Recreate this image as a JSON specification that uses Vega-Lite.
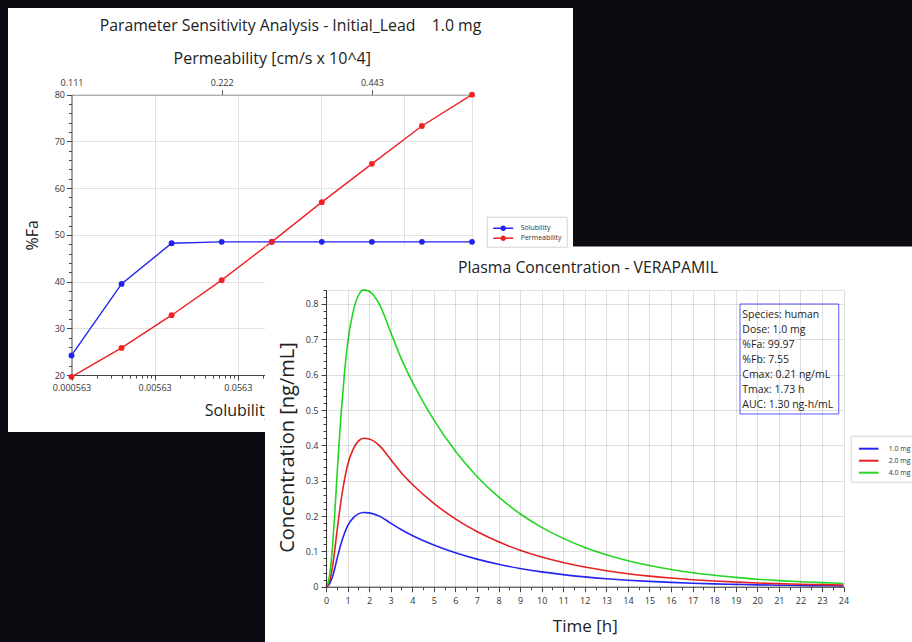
{
  "$schema": "https://vega.github.io/schema/vega-lite/v6.json",
  "width": 565,
  "height": 424,
  "autosize": "none",
  "padding": {"left": 8, "top": 8, "right": 339, "bottom": 210},
  "background": "#0b0c12",
  "view": {"fill": "white", "stroke": null},
  "config": {
    "font": "Open Sans",
    "view": {"stroke": null},
    "axis": {"labelFont": "Open Sans", "titleFont": "Open Sans", "titleFontWeight": "normal", "titleColor": "#222", "labelColor": "#333", "domainColor": "#444", "tickColor": "#444", "labelFlush": false, "labelOverlap": false},
    "legend": {"labelFont": "Open Sans"}
  },
  "datasets": {
    "sens": [
      {"series": "Solubility", "param": 0.000563, "fa": 24.2},
      {"series": "Solubility", "param": 0.002252, "fa": 39.5},
      {"series": "Solubility", "param": 0.009008, "fa": 48.2},
      {"series": "Solubility", "param": 0.036032, "fa": 48.5},
      {"series": "Solubility", "param": 0.144128, "fa": 48.5},
      {"series": "Solubility", "param": 0.576512, "fa": 48.5},
      {"series": "Solubility", "param": 2.306048, "fa": 48.5},
      {"series": "Solubility", "param": 9.224192, "fa": 48.5},
      {"series": "Solubility", "param": 36.896768, "fa": 48.5},
      {"series": "Permeability", "param": 0.1108, "fa": 19.6},
      {"series": "Permeability", "param": 0.1396, "fa": 25.8},
      {"series": "Permeability", "param": 0.1759, "fa": 32.8},
      {"series": "Permeability", "param": 0.2216, "fa": 40.3},
      {"series": "Permeability", "param": 0.2792, "fa": 48.5},
      {"series": "Permeability", "param": 0.3518, "fa": 57.0},
      {"series": "Permeability", "param": 0.4432, "fa": 65.2},
      {"series": "Permeability", "param": 0.5584, "fa": 73.3},
      {"series": "Permeability", "param": 0.7036, "fa": 80.0}
    ],
    "pk": [
      {"t": 0, "dose": "1.0 mg", "c": 0}, {"t": 0.1, "dose": "1.0 mg", "c": 0.003}, {"t": 0.2, "dose": "1.0 mg", "c": 0.012}, {"t": 0.3, "dose": "1.0 mg", "c": 0.028}, {"t": 0.4, "dose": "1.0 mg", "c": 0.05}, {"t": 0.5, "dose": "1.0 mg", "c": 0.076}, {"t": 0.6, "dose": "1.0 mg", "c": 0.1}, {"t": 0.7, "dose": "1.0 mg", "c": 0.122}, {"t": 0.85, "dose": "1.0 mg", "c": 0.15}, {"t": 1, "dose": "1.0 mg", "c": 0.172}, {"t": 1.25, "dose": "1.0 mg", "c": 0.194}, {"t": 1.5, "dose": "1.0 mg", "c": 0.206}, {"t": 1.75, "dose": "1.0 mg", "c": 0.21}, {"t": 2, "dose": "1.0 mg", "c": 0.209}, {"t": 2.5, "dose": "1.0 mg", "c": 0.199}, {"t": 3, "dose": "1.0 mg", "c": 0.18}, {"t": 3.5, "dose": "1.0 mg", "c": 0.161}, {"t": 4, "dose": "1.0 mg", "c": 0.145}, {"t": 5, "dose": "1.0 mg", "c": 0.118}, {"t": 6, "dose": "1.0 mg", "c": 0.096}, {"t": 7, "dose": "1.0 mg", "c": 0.078}, {"t": 8, "dose": "1.0 mg", "c": 0.0635}, {"t": 9, "dose": "1.0 mg", "c": 0.0516}, {"t": 10, "dose": "1.0 mg", "c": 0.042}, {"t": 11, "dose": "1.0 mg", "c": 0.0342}, {"t": 12, "dose": "1.0 mg", "c": 0.0278}, {"t": 13, "dose": "1.0 mg", "c": 0.0226}, {"t": 14, "dose": "1.0 mg", "c": 0.0184}, {"t": 15, "dose": "1.0 mg", "c": 0.015}, {"t": 16, "dose": "1.0 mg", "c": 0.0122}, {"t": 17, "dose": "1.0 mg", "c": 0.0099}, {"t": 18, "dose": "1.0 mg", "c": 0.0081}, {"t": 19, "dose": "1.0 mg", "c": 0.0066}, {"t": 20, "dose": "1.0 mg", "c": 0.0053}, {"t": 21, "dose": "1.0 mg", "c": 0.0043}, {"t": 22, "dose": "1.0 mg", "c": 0.0035}, {"t": 23, "dose": "1.0 mg", "c": 0.0029}, {"t": 24, "dose": "1.0 mg", "c": 0.0023},
      {"t": 0, "dose": "2.0 mg", "c": 0}, {"t": 0.1, "dose": "2.0 mg", "c": 0.006}, {"t": 0.2, "dose": "2.0 mg", "c": 0.024}, {"t": 0.3, "dose": "2.0 mg", "c": 0.056}, {"t": 0.4, "dose": "2.0 mg", "c": 0.1}, {"t": 0.5, "dose": "2.0 mg", "c": 0.152}, {"t": 0.6, "dose": "2.0 mg", "c": 0.2}, {"t": 0.7, "dose": "2.0 mg", "c": 0.244}, {"t": 0.85, "dose": "2.0 mg", "c": 0.3}, {"t": 1, "dose": "2.0 mg", "c": 0.344}, {"t": 1.25, "dose": "2.0 mg", "c": 0.388}, {"t": 1.5, "dose": "2.0 mg", "c": 0.412}, {"t": 1.75, "dose": "2.0 mg", "c": 0.42}, {"t": 2, "dose": "2.0 mg", "c": 0.418}, {"t": 2.5, "dose": "2.0 mg", "c": 0.398}, {"t": 3, "dose": "2.0 mg", "c": 0.36}, {"t": 3.5, "dose": "2.0 mg", "c": 0.322}, {"t": 4, "dose": "2.0 mg", "c": 0.29}, {"t": 5, "dose": "2.0 mg", "c": 0.236}, {"t": 6, "dose": "2.0 mg", "c": 0.192}, {"t": 7, "dose": "2.0 mg", "c": 0.156}, {"t": 8, "dose": "2.0 mg", "c": 0.127}, {"t": 9, "dose": "2.0 mg", "c": 0.1032}, {"t": 10, "dose": "2.0 mg", "c": 0.084}, {"t": 11, "dose": "2.0 mg", "c": 0.0684}, {"t": 12, "dose": "2.0 mg", "c": 0.0556}, {"t": 13, "dose": "2.0 mg", "c": 0.0452}, {"t": 14, "dose": "2.0 mg", "c": 0.0368}, {"t": 15, "dose": "2.0 mg", "c": 0.03}, {"t": 16, "dose": "2.0 mg", "c": 0.0244}, {"t": 17, "dose": "2.0 mg", "c": 0.0198}, {"t": 18, "dose": "2.0 mg", "c": 0.0162}, {"t": 19, "dose": "2.0 mg", "c": 0.0132}, {"t": 20, "dose": "2.0 mg", "c": 0.0106}, {"t": 21, "dose": "2.0 mg", "c": 0.0086}, {"t": 22, "dose": "2.0 mg", "c": 0.007}, {"t": 23, "dose": "2.0 mg", "c": 0.0058}, {"t": 24, "dose": "2.0 mg", "c": 0.0046},
      {"t": 0, "dose": "4.0 mg", "c": 0}, {"t": 0.1, "dose": "4.0 mg", "c": 0.012}, {"t": 0.2, "dose": "4.0 mg", "c": 0.048}, {"t": 0.3, "dose": "4.0 mg", "c": 0.112}, {"t": 0.4, "dose": "4.0 mg", "c": 0.2}, {"t": 0.5, "dose": "4.0 mg", "c": 0.304}, {"t": 0.6, "dose": "4.0 mg", "c": 0.4}, {"t": 0.7, "dose": "4.0 mg", "c": 0.488}, {"t": 0.85, "dose": "4.0 mg", "c": 0.6}, {"t": 1, "dose": "4.0 mg", "c": 0.688}, {"t": 1.25, "dose": "4.0 mg", "c": 0.776}, {"t": 1.5, "dose": "4.0 mg", "c": 0.824}, {"t": 1.75, "dose": "4.0 mg", "c": 0.84}, {"t": 2, "dose": "4.0 mg", "c": 0.836}, {"t": 2.5, "dose": "4.0 mg", "c": 0.796}, {"t": 3, "dose": "4.0 mg", "c": 0.72}, {"t": 3.5, "dose": "4.0 mg", "c": 0.644}, {"t": 4, "dose": "4.0 mg", "c": 0.58}, {"t": 5, "dose": "4.0 mg", "c": 0.472}, {"t": 6, "dose": "4.0 mg", "c": 0.384}, {"t": 7, "dose": "4.0 mg", "c": 0.312}, {"t": 8, "dose": "4.0 mg", "c": 0.254}, {"t": 9, "dose": "4.0 mg", "c": 0.2064}, {"t": 10, "dose": "4.0 mg", "c": 0.168}, {"t": 11, "dose": "4.0 mg", "c": 0.1368}, {"t": 12, "dose": "4.0 mg", "c": 0.1112}, {"t": 13, "dose": "4.0 mg", "c": 0.0904}, {"t": 14, "dose": "4.0 mg", "c": 0.0736}, {"t": 15, "dose": "4.0 mg", "c": 0.06}, {"t": 16, "dose": "4.0 mg", "c": 0.0488}, {"t": 17, "dose": "4.0 mg", "c": 0.0396}, {"t": 18, "dose": "4.0 mg", "c": 0.0324}, {"t": 19, "dose": "4.0 mg", "c": 0.0264}, {"t": 20, "dose": "4.0 mg", "c": 0.0212}, {"t": 21, "dose": "4.0 mg", "c": 0.0172}, {"t": 22, "dose": "4.0 mg", "c": 0.014}, {"t": 23, "dose": "4.0 mg", "c": 0.0116}, {"t": 24, "dose": "4.0 mg", "c": 0.0092}
    ]
  },
  "layer": [
    {
      "data": {"name": "sens"},
      "layer": [
        {
          "transform": [{"filter": "datum.series == 'Solubility'"}],
          "layer": [
            {
              "mark": {"type": "point", "filled": true, "size": 34, "opacity": 1},
              "encoding": {
                "x": {"field": "param", "type": "quantitative",
                  "scale": {"type": "log", "domain": [0.000563, 36.9], "range": [63.5, 464], "nice": false},
                  "axis": {"orient": "bottom", "offset": -57, "zindex": 0, "labelOverlap": false, "labelFlush": false, "tickCount": 200,
                    "values": [0.000563, 0.001126, 0.001689, 0.002252, 0.002815, 0.003378, 0.003941, 0.004504, 0.005067, 0.00563, 0.01126, 0.01689, 0.02252, 0.02815, 0.03378, 0.03941, 0.04504, 0.05067, 0.0563, 0.1126, 0.1689, 0.2252, 0.2815, 0.3378, 0.3941, 0.4504, 0.5067, 0.563, 1.126, 1.689, 2.252, 2.815, 3.378, 3.941, 4.504, 5.067, 5.63, 11.26, 16.89, 22.52, 28.15, 33.78],
                    "labelExpr": "indexof([0.000563,0.00563,0.0563,0.563,5.63], datum.value) >= 0 ? format(datum.value, '.3~r') : ''",
                    "tickSize": {"condition": {"test": "indexof([0.000563,0.00563,0.0563,0.563,5.63], datum.value) >= 0", "value": 5}, "value": 3},
                    "grid": false,
                    "labelFontSize": 9, "labelPadding": 3,
                    "title": "Solubility [mg/mL]", "titleFontSize": 16, "titlePadding": 10}},
                "y": {"field": "fa", "type": "quantitative",
                  "scale": {"domain": [20, 80], "range": [367, 86.7], "nice": false, "zero": false},
                  "axis": {"orient": "left", "offset": -63.5, "zindex": 0, "labelOverlap": false, "tickCount": 200,
                    "values": [20, 22, 24, 26, 28, 30, 32, 34, 36, 38, 40, 42, 44, 46, 48, 50, 52, 54, 56, 58, 60, 62, 64, 66, 68, 70, 72, 74, 76, 78, 80],
                    "labelExpr": "datum.value % 10 == 0 ? format(datum.value, 'd') : ''",
                    "tickSize": {"condition": {"test": "datum.value % 10 == 0", "value": 5}, "value": 3},
                    "grid": true, "gridColor": "#e2e2e2",
                    "gridOpacity": {"condition": {"test": "datum.value % 10 == 0", "value": 1}, "value": 0},
                    "labelFontSize": 9, "labelPadding": 2,
                    "title": "%Fa", "titleFontSize": 16, "titlePadding": 14}},
                "color": {"field": "series", "type": "nominal", "scale": {"domain": ["Solubility", "Permeability"], "range": ["#2222ee", "#ee2222"]},
                  "legend": {"orient": "none", "legendX": 478.7, "legendY": 208.7, "title": null, "direction": "vertical",
                    "symbolType": "M-1.54,-0.11H1.54V0.11H-1.54ZM0.42,0A0.42,0.42,0,1,1,-0.42,0A0.42,0.42,0,1,1,0.42,0Z",
                    "symbolSize": 169, "symbolStrokeWidth": 0, "symbolOffset": 5, "labelOffset": 11,
                    "labelFontSize": 7, "labelColor": "#333", "padding": 5, "rowPadding": 0,
                    "strokeColor": "#d4d4d4", "fillColor": "white"}}
              }
            },
            {
              "mark": {"type": "line", "strokeWidth": 1.4},
              "encoding": {
                "x": {"field": "param", "type": "quantitative"},
                "y": {"field": "fa", "type": "quantitative"},
                "color": {"field": "series", "type": "nominal", "legend": null}
              }
            },
            {
              "data": {"values": [{}]},
              "mark": {"type": "text", "align": "center", "baseline": "middle", "fontSize": 15.8, "color": "#222", "font": "Open Sans"},
              "encoding": {
                "x": {"datum": 0.2422, "type": "quantitative"},
                "y": {"datum": 94.7, "type": "quantitative"},
                "text": {"value": "Parameter Sensitivity Analysis - Initial_Lead\u00a0\u00a0\u00a0 1.0 mg"}
              }
            }
          ]
        },
        {
          "transform": [{"filter": "datum.series == 'Permeability'"}],
          "layer": [
            {
              "mark": {"type": "line", "strokeWidth": 1.4},
              "encoding": {
                "x": {"field": "param", "type": "quantitative",
                  "scale": {"type": "log", "base": 2, "domain": [0.1108, 0.7036], "range": [63.5, 464], "nice": false},
                  "axis": {"orient": "top", "offset": -86.7, "zindex": 0, "labelOverlap": false, "labelFlush": false, "tickCount": 200,
                    "values": [0.1108, 0.16264, 0.2216, 0.23873, 0.3504, 0.4432, 0.51433, 0.7036],
                    "labelExpr": "indexof([0.1108,0.2216,0.4432], datum.value) >= 0 ? format(datum.value, '.3f') : ''",
                    "tickOpacity": {"condition": {"test": "indexof([0.2216,0.4432], datum.value) >= 0", "value": 1}, "value": 0},
                    "grid": true, "gridColor": "#e2e2e2",
                    "gridOpacity": {"condition": {"test": "indexof([0.16264,0.23873,0.3504,0.51433,0.7036], datum.value) >= 0", "value": 1}, "value": 0},
                    "tickSize": 5, "domainColor": "#999", "tickColor": "#555",
                    "labelFontSize": 9, "labelPadding": 2,
                    "title": "Permeability [cm/s x 10^4]", "titleFontSize": 16, "titlePadding": 12}},
                "y": {"field": "fa", "type": "quantitative"},
                "color": {"field": "series", "type": "nominal", "legend": null}
              }
            },
            {
              "mark": {"type": "point", "filled": true, "size": 34, "opacity": 1},
              "encoding": {
                "x": {"field": "param", "type": "quantitative"},
                "y": {"field": "fa", "type": "quantitative"},
                "color": {"field": "series", "type": "nominal", "legend": null}
              }
            }
          ]
        }
      ],
      "resolve": {"scale": {"x": "independent"}, "axis": {"x": "independent"}}
    },
    {
      "layer": [
        {
          "data": {"values": [{}]},
          "mark": {"type": "rect", "fill": "white"},
          "encoding": {
            "x": {"datum": -2.829, "type": "quantitative",
              "scale": {"domain": [0, 24], "range": [318, 835.5], "nice": false, "zero": false},
              "axis": {"orient": "top", "offset": -281.85, "zindex": 1, "tickCount": 200,
                "values": [0, 1, 2, 3, 4, 5, 6, 7, 8, 9, 10, 11, 12, 13, 14, 15, 16, 17, 18, 19, 20, 21, 22, 23, 24],
                "grid": true, "gridColor": "#000", "gridOpacity": 0.12,
                "labels": false, "ticks": false, "domain": false, "title": null}},
            "x2": {"datum": 28},
            "y": {"datum": 0.963, "type": "quantitative",
              "scale": {"domain": [0, 0.84], "range": [578.7, 281.85], "nice": false, "zero": false},
              "axis": null},
            "y2": {"datum": -0.2}
          }
        },
        {
          "data": {"name": "pk"},
          "layer": [
            {
              "mark": {"type": "line", "strokeWidth": 1.6, "interpolate": "monotone"},
              "encoding": {
                "x": {"field": "t", "type": "quantitative",
                  "scale": {"domain": [0, 24], "range": [318, 835.5], "nice": false, "zero": false},
                  "axis": {"orient": "bottom", "offset": 154.7, "zindex": 1, "labelOverlap": false, "labelFlush": false, "tickCount": 200,
                    "values": [0, 0.5, 1, 1.5, 2, 2.5, 3, 3.5, 4, 4.5, 5, 5.5, 6, 6.5, 7, 7.5, 8, 8.5, 9, 9.5, 10, 10.5, 11, 11.5, 12, 12.5, 13, 13.5, 14, 14.5, 15, 15.5, 16, 16.5, 17, 17.5, 18, 18.5, 19, 19.5, 20, 20.5, 21, 21.5, 22, 22.5, 23, 23.5, 24],
                    "labelExpr": "datum.value % 1 == 0 ? format(datum.value, 'd') : ''",
                    "tickSize": {"condition": {"test": "datum.value % 1 == 0", "value": 5}, "value": 3},
                    "grid": false,
                    "domainColor": "#333", "labelFontSize": 9, "labelPadding": 5,
                    "title": "Time [h]", "titleFontSize": 17, "titlePadding": 13}},
                "y": {"field": "c", "type": "quantitative",
                  "scale": {"domain": [0, 0.84], "range": [578.7, 281.85], "nice": false, "zero": false},
                  "axis": {"orient": "left", "offset": -318, "zindex": 1, "labelOverlap": false, "tickCount": 200,
                    "values": [0, 0.02, 0.04, 0.06, 0.08, 0.1, 0.12, 0.14, 0.16, 0.18, 0.2, 0.22, 0.24, 0.26, 0.28, 0.3, 0.32, 0.34, 0.36, 0.38, 0.4, 0.42, 0.44, 0.46, 0.48, 0.5, 0.52, 0.54, 0.56, 0.58, 0.6, 0.62, 0.64, 0.66, 0.68, 0.7, 0.72, 0.74, 0.76, 0.78, 0.8, 0.82, 0.84],
                    "labelExpr": "abs(datum.value*10 - round(datum.value*10)) < 0.0001 ? format(datum.value, '.1~f') : ''",
                    "tickSize": {"condition": {"test": "abs(datum.value*10 - round(datum.value*10)) < 0.0001", "value": 5}, "value": 3},
                    "grid": true, "gridColor": "#000",
                    "gridOpacity": {"condition": {"test": "abs(datum.value*10 - round(datum.value*10)) < 0.0001 || datum.value > 0.835", "value": 0.12}, "value": 0},
                    "domainColor": "#333", "labelFontSize": 9, "labelPadding": 3,
                    "title": "Concentration [ng/mL]", "titleFontSize": 20, "titlePadding": 8, "titleY": 439}},
                "color": {"field": "dose", "type": "nominal",
                  "scale": {"domain": ["1.0 mg", "2.0 mg", "4.0 mg"], "range": ["#2525f0", "#e52222", "#22d822"]},
                  "legend": {"orient": "none", "legendX": 842.7, "legendY": 427.7, "title": null, "direction": "vertical",
                    "symbolType": "M-1.4,0H1.4", "symbolSize": 196, "symbolStrokeWidth": 2, "symbolOffset": 5, "labelOffset": 12,
                    "labelFontSize": 7, "labelColor": "#333", "padding": 5, "rowPadding": 0,
                    "strokeColor": "#d4d4d4", "fillColor": "white"}}
              }
            },
            {
              "data": {"values": [{}]},
              "mark": {"type": "rect", "fill": "white", "stroke": "#5b5bff", "strokeWidth": 1},
              "encoding": {
                "x": {"datum": 19.2, "type": "quantitative"},
                "x2": {"datum": 23.78},
                "y": {"datum": 0.8, "type": "quantitative"},
                "y2": {"datum": 0.4887}
              }
            },
            {
              "data": {"values": [{}]},
              "mark": {"type": "text", "align": "left", "baseline": "alphabetic", "fontSize": 10.5, "lineHeight": 15, "color": "#222", "font": "Open Sans"},
              "encoding": {
                "x": {"datum": 19.306, "type": "quantitative"},
                "y": {"datum": 0.7603, "type": "quantitative"},
                "text": {"value": ["Species: human", "Dose: 1.0 mg", "%Fa: 99.97", "%Fb: 7.55", "Cmax: 0.21 ng/mL", "Tmax: 1.73 h", "AUC: 1.30 ng-h/mL"]}
              }
            },
            {
              "data": {"values": [{}]},
              "mark": {"type": "text", "align": "center", "baseline": "middle", "fontSize": 15.8, "color": "#222", "font": "Open Sans"},
              "encoding": {
                "x": {"datum": 12.15, "type": "quantitative"},
                "y": {"datum": 0.9018, "type": "quantitative"},
                "text": {"value": "Plasma Concentration - VERAPAMIL"}
              }
            }
          ]
        }
      ],
      "resolve": {"scale": {"x": "independent", "y": "independent"}, "axis": {"x": "independent", "y": "independent"}}
    }
  ],
  "resolve": {"scale": {"x": "independent", "y": "independent", "color": "independent"}, "axis": {"x": "independent", "y": "independent"}, "legend": {"color": "independent"}}
}
